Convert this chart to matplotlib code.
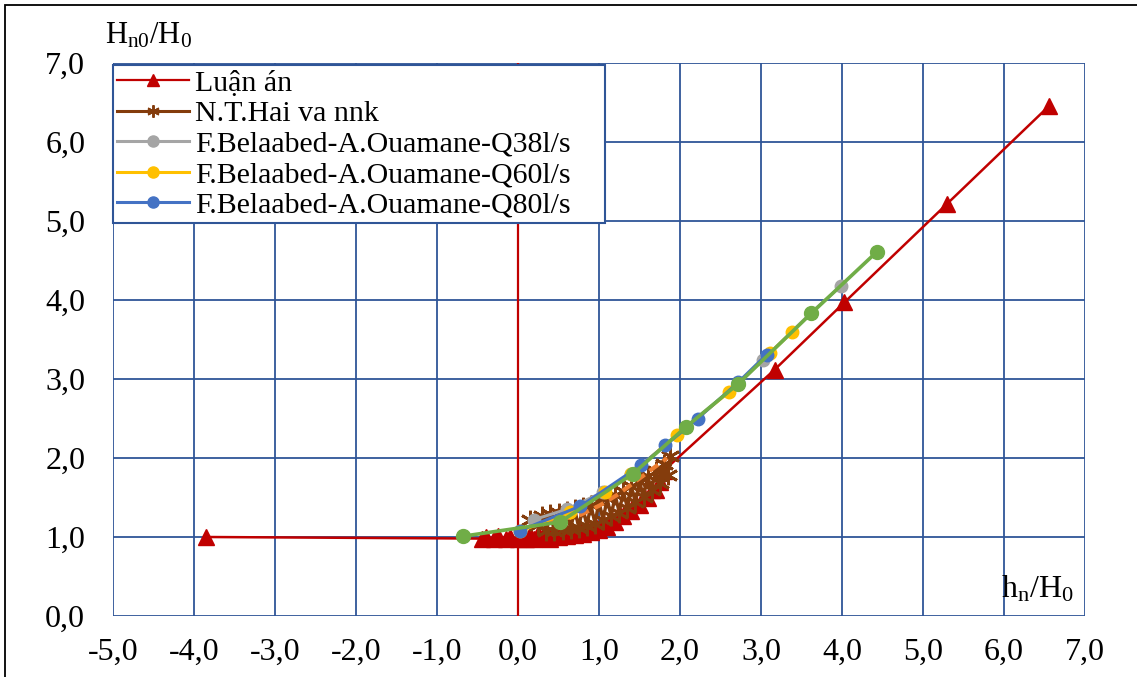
import matplotlib.pyplot as plt
from matplotlib.patches import Rectangle
from matplotlib.lines import Line2D

plt.rcParams['font.family'] = ['Liberation Serif', 'DejaVu Serif']
plt.rcParams['mathtext.fontset'] = 'custom'
plt.rcParams['mathtext.rm'] = 'Liberation Serif'
plt.rcParams['mathtext.default'] = 'regular'

# Luận án (red triangles)
luanan_x = [-3.85, -0.45, -0.40, -0.30, -0.25, -0.15, -0.10, 0.00, 0.05, 0.10, 0.15, 0.20,
            0.25, 0.30, 0.35, 0.40, 0.45, 0.50, 0.55, 0.60, 0.65, 0.70, 0.75, 0.80, 0.85,
            0.90, 0.95, 1.00, 1.05, 1.10, 1.15, 1.20, 1.25, 1.30, 1.35, 1.40, 1.45, 1.50,
            1.55, 1.60, 1.65, 1.70, 1.75, 1.80, 3.17, 4.03, 5.30, 6.55]
luanan_y = [1.00, 0.98, 1.00, 0.97, 1.01, 0.98, 1.00, 0.97, 1.02, 0.98, 1.03, 0.97,
            1.04, 0.99, 1.05, 0.98, 1.06, 1.00, 1.07, 1.01, 1.09, 1.03, 1.10, 1.04, 1.12,
            1.06, 1.15, 1.09, 1.19, 1.13, 1.24, 1.19, 1.30, 1.26, 1.37, 1.33, 1.44, 1.41,
            1.52, 1.50, 1.60, 1.60, 1.70, 1.84, 3.12, 3.97, 5.22, 6.45]

# N.T.Hai va nnk (brown asterisks)
hai_x = [0.15, 0.25, 0.30, 0.35, 0.40, 0.45, 0.50, 0.55, 0.60, 0.65, 0.70, 0.75, 0.80,
         0.85, 0.90, 0.95, 1.00, 1.05, 1.10, 1.15, 1.20, 1.25, 1.30, 1.35, 1.40, 1.45,
         1.50, 1.55, 1.60, 1.65, 1.70, 1.75, 1.80, 1.85, 1.88]
hai_y = [1.22, 1.15, 1.27, 1.08, 1.29, 1.07, 1.31, 1.09, 1.33, 1.10, 1.35, 1.12, 1.38,
         1.14, 1.41, 1.17, 1.45, 1.21, 1.49, 1.26, 1.53, 1.31, 1.58, 1.37, 1.64, 1.44,
         1.70, 1.51, 1.77, 1.60, 1.84, 1.68, 1.92, 1.78, 2.02]

# dashed trend (orange)
trend_x = [0.15, 0.40, 0.77, 1.01, 1.22, 1.42, 1.59, 1.84]
trend_y = [1.20, 1.19, 1.28, 1.40, 1.53, 1.68, 1.81, 2.00]

# F.Belaabed-A.Ouamane series
q38_x = [0.20, 0.60, 1.05, 1.40, 2.07, 2.72, 3.02, 3.62, 3.99]
q38_y = [1.22, 1.35, 1.57, 1.80, 2.39, 2.94, 3.24, 3.84, 4.18]
q60_x = [0.02, 0.64, 1.07, 1.40, 1.96, 2.61, 3.11, 3.38]
q60_y = [1.07, 1.32, 1.57, 1.80, 2.29, 2.84, 3.33, 3.59]
q80_x = [0.02, 0.77, 1.52, 1.82, 2.22, 2.72, 3.07]
q80_y = [1.08, 1.39, 1.91, 2.16, 2.50, 2.96, 3.31]
green_x = [-0.68, 0.52, 1.42, 2.07, 2.72, 3.62, 4.43]
green_y = [1.01, 1.19, 1.80, 2.39, 2.94, 3.83, 4.61]

x_ticks = [-5, -4, -3, -2, -1, 0, 1, 2, 3, 4, 5, 6, 7]
y_ticks = [0, 1, 2, 3, 4, 5, 6, 7]

RED = '#C00000'
BROWN = '#843C0C'
GRID = '#2F5597'

fig = plt.figure(figsize=(11.37, 6.77), dpi=100)
ax = fig.add_axes([113 / 1137, 61 / 677, 972 / 1137, 553 / 677])

ax.plot(luanan_x, luanan_y, color=RED, lw=1.8, marker='^', ms=11, zorder=3)
ax.plot(hai_x, hai_y, color=BROWN, lw=2.4, marker=(6, 2, 0), ms=14, mew=2.0, zorder=4)
ax.plot(trend_x, trend_y, color='#ED7D31', lw=3, ls=(0, (2.5, 1.5)), zorder=5)
ax.plot(q38_x, q38_y, color='#A5A5A5', lw=2.2, marker='o', ms=9, zorder=6)
ax.plot(q60_x, q60_y, color='#FFC000', lw=2.2, marker='o', ms=9, zorder=7)
ax.plot(q80_x, q80_y, color='#4472C4', lw=2.2, marker='o', ms=9, zorder=8)
ax.plot(green_x, green_y, color='#70AD47', lw=2.6, marker='o', ms=10, zorder=9)

ax.axvline(0, color=RED, lw=1.6, zorder=2)

ax.set_xlim(-5, 7)
ax.set_ylim(0, 7)
ax.set_xticks(x_ticks)
ax.set_yticks(y_ticks)
ax.set_xticklabels([f'{v:.1f}'.replace('.', ',') for v in x_ticks])
ax.set_yticklabels([f'{v:.1f}'.replace('.', ',') for v in y_ticks])
ax.tick_params(length=0, labelsize=23)
ax.tick_params(axis='x', pad=16)
ax.tick_params(axis='y', pad=20)
ax.grid(True, color=GRID, lw=1.3, zorder=1)
ax.set_axisbelow(True)
for s in ax.spines.values():
    s.set_visible(False)

handles = [
    Line2D([], [], color=RED, lw=1.6, marker='^', ms=8),
    Line2D([], [], color=BROWN, lw=2.2, marker=(6, 2, 0), ms=9, mew=1.4),
    Line2D([], [], color='#A5A5A5', lw=2.2, marker='o', ms=8),
    Line2D([], [], color='#FFC000', lw=2.2, marker='o', ms=8),
    Line2D([], [], color='#4472C4', lw=2.2, marker='o', ms=8),
]
labels = ['Luận án', 'N.T.Hai va nnk', 'F.Belaabed-A.Ouamane-Q38l/s',
          'F.Belaabed-A.Ouamane-Q60l/s', 'F.Belaabed-A.Ouamane-Q80l/s']
leg = ax.legend(handles, labels, loc='upper left', bbox_to_anchor=(0.0, 0.716, 0.506, 0.28),
                mode='expand', fontsize=21.5, frameon=True, fancybox=False, framealpha=1,
                borderaxespad=0, borderpad=0.15, handlelength=2.4, handletextpad=0.2,
                labelspacing=0.12)
leg.get_frame().set_edgecolor(GRID)
leg.get_frame().set_linewidth(1.5)
leg.set_zorder(20)

fig.text(105 / 1137, 1 - 44 / 677, '$H_{n0}/H_0$', fontsize=22, va='baseline', ha='left')
fig.text(1001 / 1137, 1 - 597 / 677, '$h_n/H_0$', fontsize=23, va='baseline', ha='left')

fig.patches.append(Rectangle((5 / 1137, -0.02), 1.2, 1 - 5 / 677 + 0.02,
                             transform=fig.transFigure, fill=False,
                             edgecolor='black', lw=1.3))

fig.savefig('out.png', dpi=100)
